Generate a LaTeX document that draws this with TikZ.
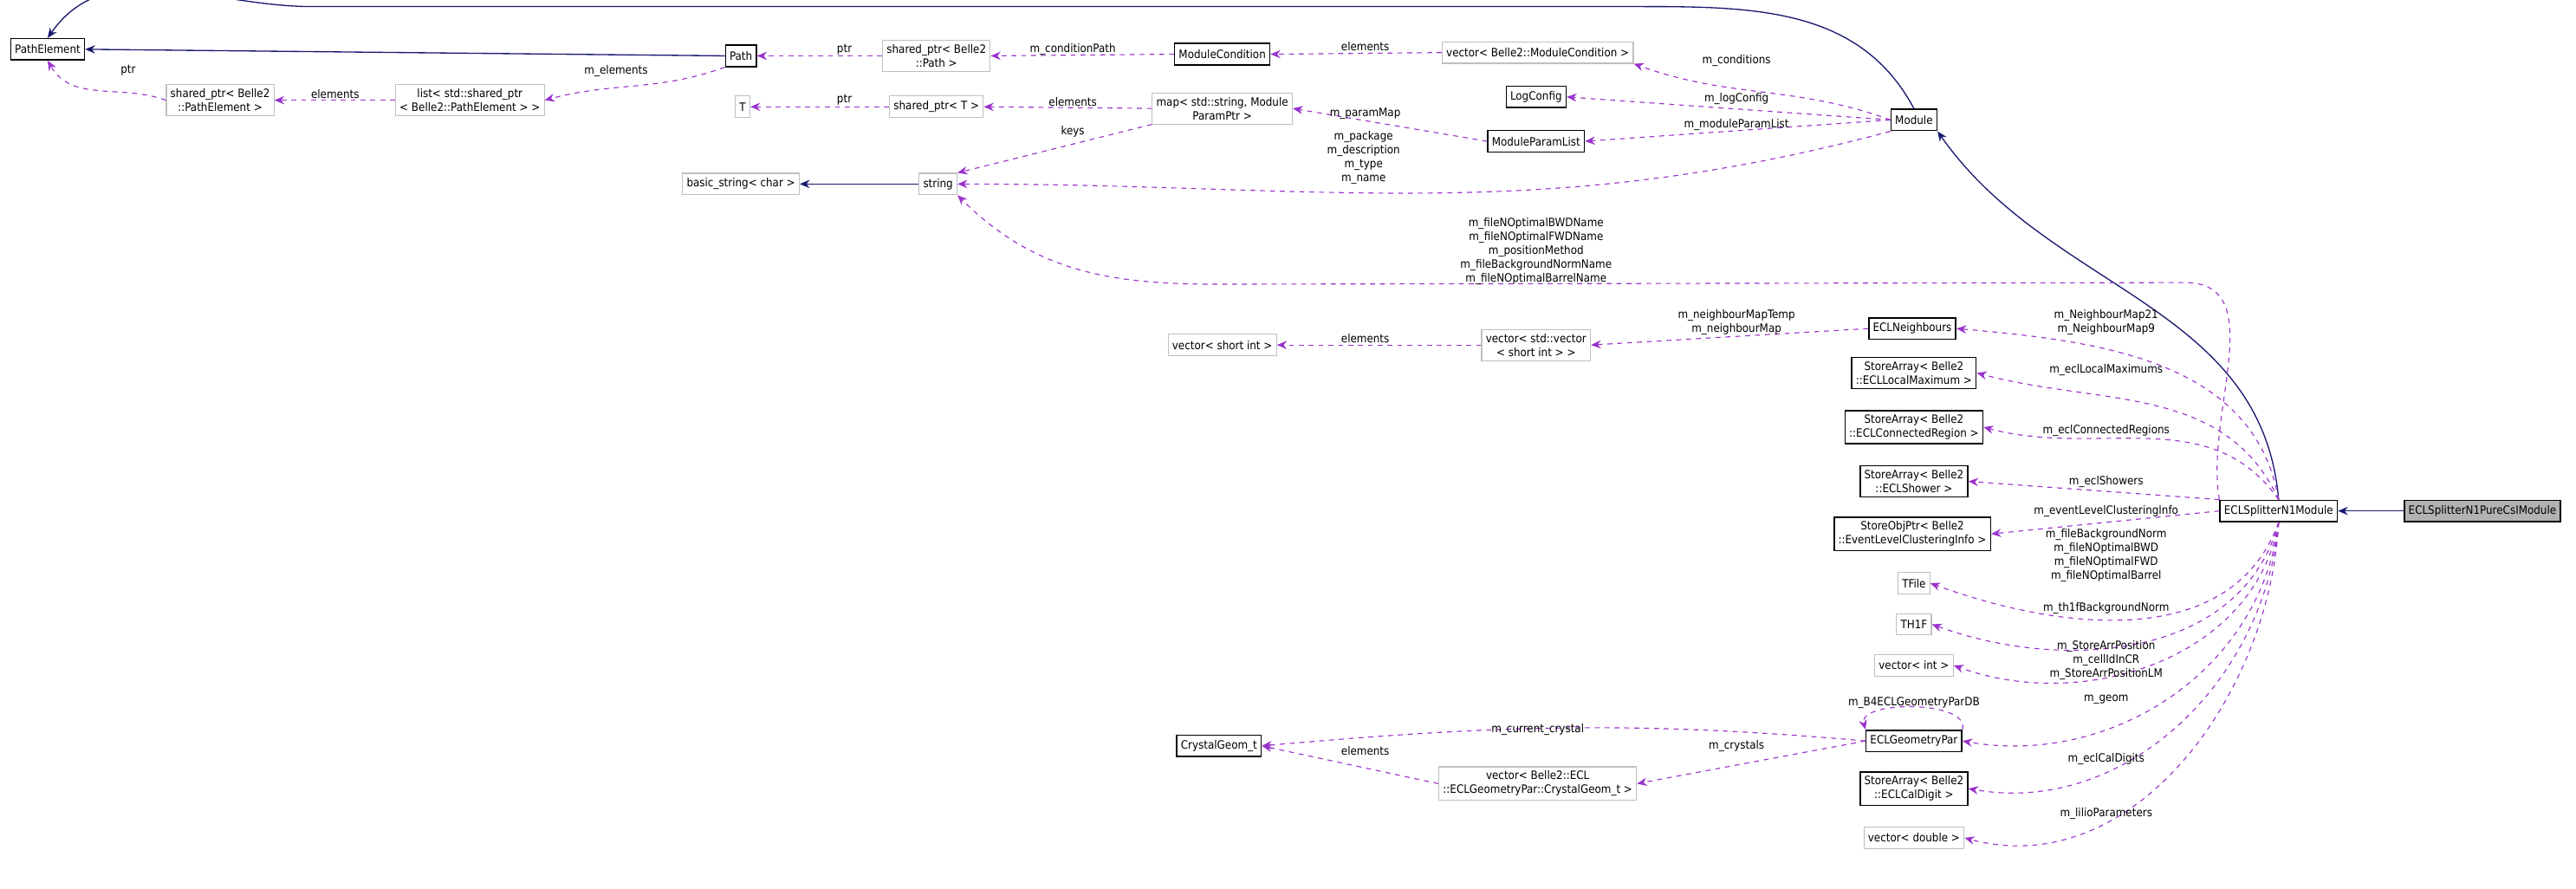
\documentclass[tikz,border=0pt]{standalone}
\usepackage{fontspec}
\setmainfont{DejaVu Sans Condensed}
\usetikzlibrary{arrows.meta}
\definecolor{usec}{HTML}{9A32CD}
\definecolor{inhc}{HTML}{191970}
\begin{document}
\begin{tikzpicture}[x=1pt,y=-1pt,
  font=\fontsize{7}{8.5}\selectfont,
  cls/.style={draw=black,line width=0.8pt,inner sep=2.5pt,minimum height=13pt,align=center,fill=white},
  ext/.style={draw=black!25,line width=0.6pt,inner sep=2.5pt,minimum height=13pt,align=center,fill=white},
  use/.style={usec,dashed,line width=0.6pt,-{Stealth[length=6pt,width=5pt]}},
  inh/.style={inhc,line width=0.7pt,-{Stealth[length=6pt,width=5pt]}},
  lbl/.style={inner sep=0pt,align=center}]
\useasboundingbox (0,0) rectangle (1568,541);
% nodes
\node[cls] (pe) at (29,30) {PathElement};
\node[cls] (path) at (451,34) {Path};
\node[ext] (spp) at (570,34) {shared\_ptr< Belle2\\::Path >};
\node[cls] (mc) at (744,33) {ModuleCondition};
\node[ext] (vmc) at (936,32) {vector< Belle2::ModuleCondition >};
\node[cls] (mod) at (1165,73) {Module};
\node[ext] (sppe) at (134,61) {shared\_ptr< Belle2\\::PathElement >};
\node[ext] (lst) at (286,61) {list< std::shared\_ptr\\< Belle2::PathElement > >};
\node[ext] (T) at (452,65) {T};
\node[ext] (spt) at (570,65) {shared\_ptr< T >};
\node[ext] (map) at (744,66) {map< std::string, Module\\ParamPtr >};
\node[cls] (log) at (935,59) {LogConfig};
\node[cls] (mpl) at (935,86) {ModuleParamList};
\node[ext] (bs) at (451,112) {basic\_string< char >};
\node[ext] (str) at (571,112) {string};
\node[cls] (nb) at (1164,200) {ECLNeighbours};
\node[ext] (vv) at (935,210) {vector< std::vector\\< short int > >};
\node[ext] (vs) at (744,210) {vector< short int >};
\node[cls] (salm) at (1165,227) {StoreArray< Belle2\\::ECLLocalMaximum >};
\node[cls] (sacr) at (1165,260) {StoreArray< Belle2\\::ECLConnectedRegion >};
\node[cls] (sash) at (1165,293) {StoreArray< Belle2\\::ECLShower >};
\node[cls] (sop) at (1164,325) {StoreObjPtr< Belle2\\::EventLevelClusteringInfo >};
\node[ext] (tf) at (1165,355) {TFile};
\node[ext] (th) at (1165,380) {TH1F};
\node[ext] (vi) at (1165,405) {vector< int >};
\node[cls] (egp) at (1165,451) {ECLGeometryPar};
\node[cls] (cg) at (742,454) {CrystalGeom\_t};
\node[ext] (vcg) at (936,477) {vector< Belle2::ECL\\::ECLGeometryPar::CrystalGeom\_t >};
\node[cls] (sacd) at (1165,480) {StoreArray< Belle2\\::ECLCalDigit >};
\node[ext] (vd) at (1165,510) {vector< double >};
\node[cls] (ecls) at (1387,311) {ECLSplitterN1Module};
\node[cls,fill=black!30] (pure) at (1511,311) {ECLSplitterN1PureCsIModule};
\coordinate (t1) at (1000,4);
\coordinate (t2) at (190,4);
\coordinate (b1) at (1330,172);
\coordinate (b2) at (740,173);
% inheritance
\draw[inh] (mod.north) to[out=118,in=0] (t1) -- (t2) to[out=180,in=55] (pe.north);
\draw[inh] (path.west) -- (pe.east);
\draw[inh] (str.west) -- (bs.east);
\draw[inh] (ecls.north) to[out=95,in=-55] (mod.south east);
\draw[inh] (pure.west) -- (ecls.east);
% usage
\draw[use] (spp.west) -- (path.east);
\draw[use] (mc.west) -- (spp.east);
\draw[use] (vmc.west) -- (mc.east);
\draw[use] (mod.west) to[out=160,in=-20] (vmc.south east);
\draw[use] (sppe.west) to[out=160,in=-60] (pe.south);
\draw[use] (lst.west) -- (sppe.east);
\draw[use] (path.south west) to[out=200,in=15] (lst.east);
\draw[use] (spt.west) -- (T.east);
\draw[use] (map.west) -- (spt.east);
\draw[use] (map.south west) -- (str.north east);
\draw[use] (mpl.west) -- (map.east);
\draw[use] (mod.west) -- (log.east);
\draw[use] (mod.west) -- (mpl.east);
\draw[use] (mod.south west) to[out=195,in=0] (str.east);
\draw[use] (ecls.north west) to[out=100,in=0] (b1) -- (b2) to[out=180,in=-45] (str.south east);
\draw[use] (ecls.north) to[out=100,in=-5] (nb.east);
\draw[use] (nb.west) -- (vv.east);
\draw[use] (vv.west) -- (vs.east);
\draw[use] (ecls.north) to[out=115,in=-15] (salm.east);
\draw[use] (ecls.north) to[out=125,in=-15] (sacr.east);
\draw[use] (ecls.north west) -- (sash.east);
\draw[use] (ecls.west) -- (sop.east);
\draw[use] (ecls.south) to[out=-110,in=-20] (tf.east);
\draw[use] (ecls.south) to[out=-105,in=-20] (th.east);
\draw[use] (ecls.south) to[out=-100,in=-20] (vi.east);
\draw[use] (ecls.south) to[out=-97,in=-10] (egp.east);
\draw[use] (ecls.south) to[out=-95,in=-10] (sacd.east);
\draw[use] (ecls.south) to[out=-93,in=-15] (vd.east);
\draw[use] (egp.north east) .. controls +(5,-18) and +(-5,-18) .. (egp.north west);
\draw[use] (egp.west) to[out=175,in=5] (cg.east);
\draw[use] (egp.west) -- (vcg.east);
\draw[use] (vcg.west) -- (cg.east);
% labels
\node[lbl] (l1) at (78,43) {ptr};
\node[lbl] (l2) at (204,57) {elements};
\node[lbl] (l3) at (375,43) {m\_elements};
\node[lbl] (l4) at (514,30) {ptr};
\node[lbl] (l5) at (514,61) {ptr};
\node[lbl] (l6) at (653,30) {m\_conditionPath};
\node[lbl] (l7) at (831,28) {elements};
\node[lbl] (l8) at (1057,37) {m\_conditions};
\node[lbl] (l9) at (653,62) {elements};
\node[lbl] (l10) at (653,80) {keys};
\node[lbl] (l11) at (831,69) {m\_paramMap};
\node[lbl] (l12) at (1057,60) {m\_logConfig};
\node[lbl] (l13) at (1057,76) {m\_moduleParamList};
\node[lbl] (l14) at (830,96) {m\_package\\m\_description\\m\_type\\m\_name};
\node[lbl] (l15) at (935,153) {m\_fileNOptimalBWDName\\m\_fileNOptimalFWDName\\m\_positionMethod\\m\_fileBackgroundNormName\\m\_fileNOptimalBarrelName};
\node[lbl] (l16) at (1282,196) {m\_NeighbourMap21\\m\_NeighbourMap9};
\node[lbl] (l17) at (1057,196) {m\_neighbourMapTemp\\m\_neighbourMap};
\node[lbl] (l18) at (831,206) {elements};
\node[lbl] (l19) at (1282,225) {m\_eclLocalMaximums};
\node[lbl] (l20) at (1282,262) {m\_eclConnectedRegions};
\node[lbl] (l21) at (1282,293) {m\_eclShowers};
\node[lbl] (l22) at (1282,311) {m\_eventLevelClusteringInfo};
\node[lbl] (l23) at (1282,338) {m\_fileBackgroundNorm\\m\_fileNOptimalBWD\\m\_fileNOptimalFWD\\m\_fileNOptimalBarrel};
\node[lbl] (l24) at (1282,370) {m\_th1fBackgroundNorm};
\node[lbl] (l25) at (1282,402) {m\_StoreArrPosition\\m\_cellIdInCR\\m\_StoreArrPositionLM};
\node[lbl] (l26) at (1282,426) {m\_geom};
\node[lbl] (l27) at (1165,428) {m\_B4ECLGeometryParDB};
\node[lbl] (l28) at (936,444) {m\_current\_crystal};
\node[lbl] (l29) at (831,457) {elements};
\node[lbl] (l30) at (1057,454) {m\_crystals};
\node[lbl] (l31) at (1282,462) {m\_eclCalDigits};
\node[lbl] (l32) at (1282,495) {m\_lilioParameters};
\end{tikzpicture}
\end{document}
